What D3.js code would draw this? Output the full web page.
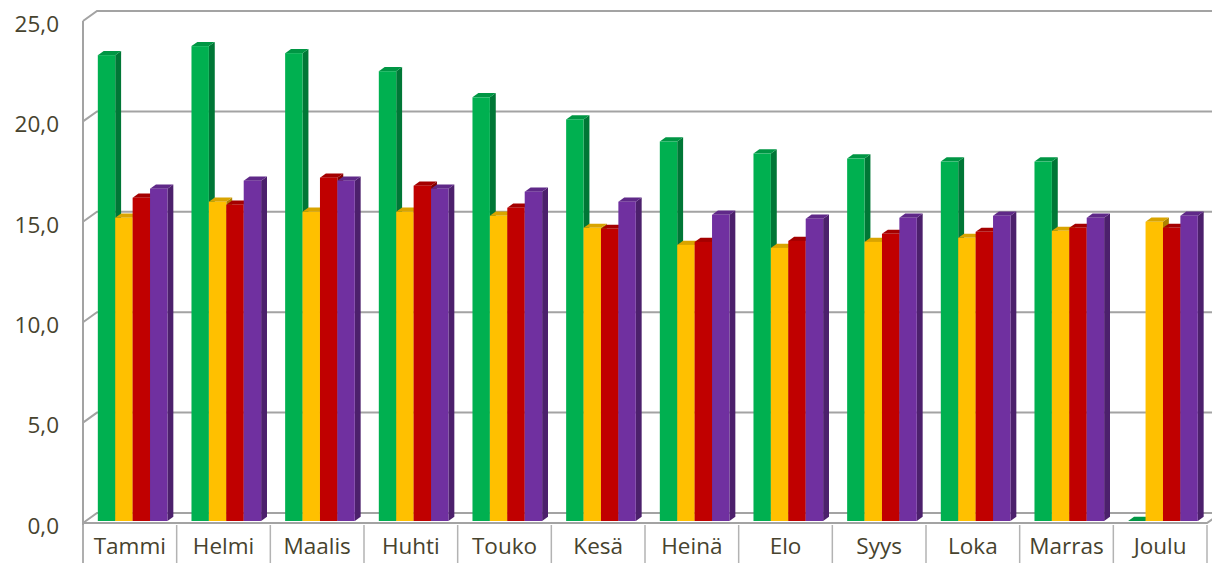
<!DOCTYPE html>
<html>
<head>
<meta charset="utf-8">
<script src="https://cdn.jsdelivr.net/npm/d3@7"></script>
<style>
  body { margin: 0; background: #fff; }
  svg { display: block; }
  .lbl text { font-family: "Open Sans", sans-serif; font-size: 22.5px; fill: #47432e; }
</style>
</head>
<body>
<script>
// data
var months = ["Tammi", "Helmi", "Maalis", "Huhti", "Touko", "Kesä", "Heinä", "Elo", "Syys", "Loka", "Marras", "Joulu"];
var seriesNames = ["s1", "s2", "s3", "s4"];
var colors = ["#00B050", "#FFC000", "#C00000", "#7030A0"];
var s1 = [23.2, 23.65, 23.3, 22.4, 21.1, 20.0, 18.9, 18.3, 18.05, 17.9, 17.9, 0];
var s2 = [15.1, 15.9, 15.4, 15.4, 15.2, 14.6, 13.75, 13.6, 13.9, 14.1, 14.45, 14.9];
var s3 = [16.1, 15.75, 17.1, 16.7, 15.6, 14.55, 13.9, 13.95, 14.3, 14.4, 14.6, 14.6];
var s4 = [16.55, 16.95, 16.95, 16.55, 16.4, 15.9, 15.25, 15.05, 15.1, 15.2, 15.1, 15.2];
var yTicks = [0, 5, 10, 15, 20, 25];

var W = 1212, H = 563;
// depth of the 3D floor (front -> back)
var depth = {dx: 14, dy: -10};
var d0 = 0.2, d1 = 0.62; // bar front/back position inside the depth

var svg = d3.select("body").append("svg").attr("width", W).attr("height", H);

var x0 = d3.scaleBand().domain(months).range([83, 1207]);
var x1 = d3.scaleBand().domain(seriesNames).range([0, x0.bandwidth()]).paddingOuter(0.69);
var y = d3.scaleLinear().domain([0, 25]).range([523, 21]);

var fi = d3.formatLocale({decimal: ",", thousands: " ", grouping: [3], currency: ["", ""]}).format(".1f");

var grid = svg.append("g").attr("stroke", "#a3a3a3").attr("stroke-width", 2).attr("fill", "none");

// back wall gridlines + left wall diagonals
yTicks.forEach(function(t) {
  var yf = y(t), yb = y(t) + depth.dy;
  if (t > 0) {
    grid.append("path").attr("d", "M83," + yf + "L" + (83 + depth.dx) + "," + yb + "L" + (W + 20) + "," + yb);
  }
});
// floor
grid.append("path").attr("d",
  "M83," + y(0) + "L" + (83 + depth.dx) + "," + (y(0) + depth.dy) + "L" + (W + 20) + "," + (y(0) + depth.dy));
grid.append("path").attr("d",
  "M83," + y(0) + "L1207," + y(0) + "L" + (1207 + depth.dx) + "," + (y(0) + depth.dy));
// left front edge
grid.append("line").attr("x1", 83).attr("x2", 83).attr("y1", y(25)).attr("y2", H);

// category dividers under the floor
var div = svg.append("g").attr("stroke", "#b3b3b3").attr("stroke-width", 1.5);
months.concat(["end"]).forEach(function(m, i) {
  var xx = i < months.length ? x0(m) : 1207;
  div.append("line").attr("x1", xx).attr("x2", xx).attr("y1", y(0) + 2).attr("y2", H);
});

// bars
var allSeries = [s1, s2, s3, s4];
var bars = svg.append("g");
months.forEach(function(m, i) {
  seriesNames.forEach(function(s, j) {
    var v = allSeries[j][i];
    var c = d3.color(colors[j]);
    var xl = x0(m) + x1(s) + depth.dx * d0;
    var xr = xl + x1.bandwidth();
    var yb = y(0) + depth.dy * d0;
    var yt = y(v) + depth.dy * d0;
    var ddx = depth.dx * (d1 - d0), ddy = depth.dy * (d1 - d0);
    var g = bars.append("g");
    // side
    g.append("path")
      .attr("d", "M" + xr + "," + yb + "L" + xr + "," + yt + "L" + (xr + ddx) + "," + (yt + ddy) +
        "L" + (xr + ddx) + "," + (yb + ddy) + "Z")
      .attr("fill", c.darker(1.1));
    // top
    g.append("path")
      .attr("d", "M" + xl + "," + yt + "L" + xr + "," + yt + "L" + (xr + ddx) + "," + (yt + ddy) +
        "L" + (xl + ddx) + "," + (yt + ddy) + "Z")
      .attr("fill", c.darker(0.45));
    // front
    g.append("rect")
      .attr("x", xl).attr("y", yt)
      .attr("width", x1.bandwidth()).attr("height", yb - yt)
      .attr("fill", colors[j]);
  });
});

// y labels
svg.append("g").attr("class", "lbl")
  .attr("transform", "translate(59,3)")
  .call(d3.axisLeft(y).tickValues(yTicks).tickFormat(fi).tickSize(0).tickPadding(0))
  .call(function(g) { g.select(".domain").remove(); });

// month labels
svg.append("g").attr("class", "lbl")
  .attr("transform", "translate(0,538)")
  .call(d3.axisBottom(x0).tickSize(0).tickPadding(0))
  .call(function(g) { g.select(".domain").remove(); });

svg.selectAll(".lbl text").attr("font-family", null).attr("font-size", null).attr("fill", null);
</script>
</body>
</html>
